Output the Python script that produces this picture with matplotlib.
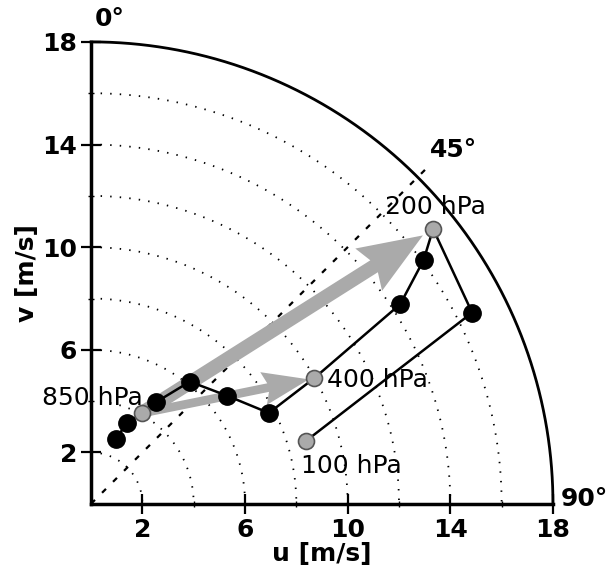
import numpy as np
import matplotlib
matplotlib.use("Agg")
import matplotlib.pyplot as plt

# Hodograph data (u, v in m/s), ordered from the lowest level upward
u_vals = [0.96, 1.40, 1.97, 2.53, 3.85, 5.28, 6.93, 8.69, 12.05, 12.96, 13.33, 14.85, 8.39]
v_vals = [2.53, 3.14, 3.53, 3.96, 4.76, 4.22, 3.54, 4.89, 7.78, 9.50, 10.71, 7.45, 2.46]
is_labeled = [False, False, True, False, False, False, False, True, False, False, True, False, True]
level_names = ["850 hPa", "400 hPa", "200 hPa", "100 hPa"]

ring_radii = [2, 4, 6, 8, 10, 12, 14, 16]
outer_radius = 18
major_ticks = [2, 6, 10, 14, 18]
minor_ticks = [4, 8, 12, 16]

fig = plt.figure(figsize=(6.11, 5.72), dpi=100)
ax = fig.add_axes([0.149, 0.119, 0.756, 0.808])
ax.set_xlim(0, 18)
ax.set_ylim(0, 18)
ax.set_aspect('equal', adjustable='box')

for s in ['top', 'right']:
    ax.spines[s].set_visible(False)
for s in ['left', 'bottom']:
    ax.spines[s].set_linewidth(2.5)

th = np.linspace(0, np.pi / 2, 300)
for r in ring_radii:
    ax.plot(r * np.sin(th), r * np.cos(th), color='black', lw=1.3,
            linestyle=(0, (0.8, 4.5)), zorder=1, clip_on=False)
ax.plot(outer_radius * np.sin(th), outer_radius * np.cos(th), color='black', lw=2.0,
        zorder=2, clip_on=False)

# 45 degree line
r45 = 18.5
ax.plot([0, r45 * np.sqrt(0.5)], [0, r45 * np.sqrt(0.5)], color='black', lw=1.6,
        linestyle=(0, (2.5, 4.5)), zorder=1, clip_on=False)

# arrows (shear vectors)
i850, i400, i200 = 2, 7, 10
ax.arrow(u_vals[i850], v_vals[i850], (u_vals[i200] - u_vals[i850]) * 0.965,
         (v_vals[i200] - v_vals[i850]) * 0.965, width=0.55, head_width=1.95,
         head_length=2.5, length_includes_head=True, overhang=0.1,
         color='#aaaaaa', lw=0, zorder=3)
ax.arrow(u_vals[i850], v_vals[i850], (u_vals[i400] - u_vals[i850]) * 0.97,
         (v_vals[i400] - v_vals[i850]) * 0.97, width=0.34, head_width=1.3,
         head_length=1.8, length_includes_head=True, overhang=0.1,
         color='#aaaaaa', lw=0, zorder=3)

ax.plot(u_vals, v_vals, color='black', lw=1.8, zorder=4)
bu = [u for u, f in zip(u_vals, is_labeled) if not f]
bv = [v for v, f in zip(v_vals, is_labeled) if not f]
gu = [u for u, f in zip(u_vals, is_labeled) if f]
gv = [v for v, f in zip(v_vals, is_labeled) if f]
ax.plot(bu, bv, 'o', color='black', ms=12.5, zorder=5)
ax.plot(gu, gv, 'o', markerfacecolor='#aaaaaa', markeredgecolor='#555555',
        mew=1.2, ms=11.5, zorder=6)

fs = 18
ax.text(u_vals[i850] + 0.05, v_vals[i850] + 0.6, level_names[0], ha='right', va='center', fontsize=fs)
ax.text(u_vals[i400] + 0.5, v_vals[i400] - 0.05, level_names[1], ha='left', va='center', fontsize=fs)
ax.text(u_vals[i200] + 0.1, v_vals[i200] + 0.85, level_names[2], ha='center', va='center', fontsize=fs)
ax.text(u_vals[12] + 1.75, v_vals[12] - 1.0, level_names[3], ha='center', va='center', fontsize=fs)

ax.text(13.2, 13.3, '45°', ha='left', va='bottom', fontsize=fs, fontweight='bold')
ax.text(0.15, 18.9, '0°', ha='left', va='center', fontsize=fs, fontweight='bold')
ax.text(18.3, 0.2, '90°', ha='left', va='center', fontsize=fs, fontweight='bold')

ax.set_xticks(major_ticks)
ax.set_yticks(major_ticks)
ax.set_xticks(minor_ticks, minor=True)
ax.set_yticks(minor_ticks, minor=True)
ax.tick_params(which='major', direction='inout', length=14, width=1.6, labelsize=fs, pad=3)
ax.tick_params(which='minor', direction='inout', length=4, width=1.0)
for lab in ax.get_xticklabels() + ax.get_yticklabels():
    lab.set_fontweight('bold')

ax.set_xlabel('u [m/s]', fontsize=fs, fontweight='bold', labelpad=0)
ax.set_ylabel('v [m/s]', fontsize=fs, fontweight='bold', labelpad=2)

fig.savefig('out.png', dpi=100)
